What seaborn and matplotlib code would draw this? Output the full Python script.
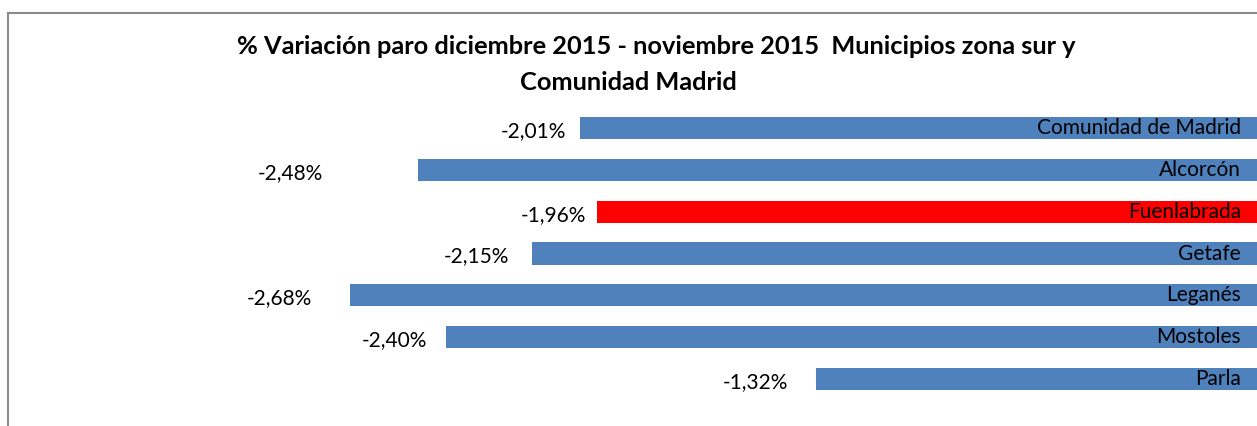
import seaborn as sns
import matplotlib.pyplot as plt
from matplotlib.lines import Line2D

# datos del gráfico
municipios = ['Comunidad de Madrid', 'Alcorcón', 'Fuenlabrada', 'Getafe',
              'Leganés', 'Mostoles', 'Parla']
variacion = [-2.01, -2.48, -1.96, -2.15, -2.68, -2.40, -1.32]
colores = ['#4F81BD', '#4F81BD', '#FF0000', '#4F81BD', '#4F81BD', '#4F81BD', '#4F81BD']
titulo_1 = '% Variación paro diciembre 2015 - noviembre 2015  Municipios zona sur y'
titulo_2 = 'Comunidad Madrid'

# separación (px) entre la etiqueta de valor y el inicio de cada barra
sep_etiqueta = [13, 95, 11, 22, 38, 19, 28]

W, H = 1257, 426
plt.rcParams['font.family'] = ['Lato', 'DejaVu Sans']
fig = plt.figure(figsize=(W / 100, H / 100), dpi=100)

# el cero del eje queda un poco fuera de la imagen (x ~ 1269 px)
zero_px = 1269
px_per_unit = 343
ax = fig.add_axes([0, 1 - 400 / H, zero_px / W, 293 / H])

sns.barplot(x=variacion, y=municipios, hue=municipios, palette=colores,
            legend=False, orient='h', width=0.53, ax=ax, saturation=1)
ax.set_xlim(-zero_px / px_per_unit, 0)
ax.set_ylim(6.5, -0.5)
ax.axis('off')

pt = 0.72  # px -> puntos a 100 dpi
for i, (nombre, v) in enumerate(zip(municipios, variacion)):
    etiqueta = f'{v:.2f}%'.replace('.', ',')
    ax.annotate(etiqueta, (v, i), xytext=(-sep_etiqueta[i] * pt, -3 * pt),
                textcoords='offset points', ha='right', va='center',
                fontsize=15, color='black')
    ax.annotate(nombre, (0, i), xytext=(-28 * pt, 0), textcoords='offset points',
                ha='right', va='center', fontsize=15, color='black')

# titulo
fig.text(656 / W, 1 - 47 / H, titulo_1, ha='center', va='center',
         fontsize=18.3, fontweight='bold')
fig.text(628 / W, 1 - 82 / H, titulo_2, ha='center', va='center',
         fontsize=18.3, fontweight='bold')

# marco del área del gráfico
fig.add_artist(Line2D([8 / W, 1], [1 - 13 / H, 1 - 13 / H], color='#8C8C8C', lw=1.5,
                      transform=fig.transFigure))
fig.add_artist(Line2D([8 / W, 8 / W], [0, 1 - 13 / H], color='#8C8C8C', lw=1.5,
                      transform=fig.transFigure))

fig.savefig('out.png', dpi=100)
